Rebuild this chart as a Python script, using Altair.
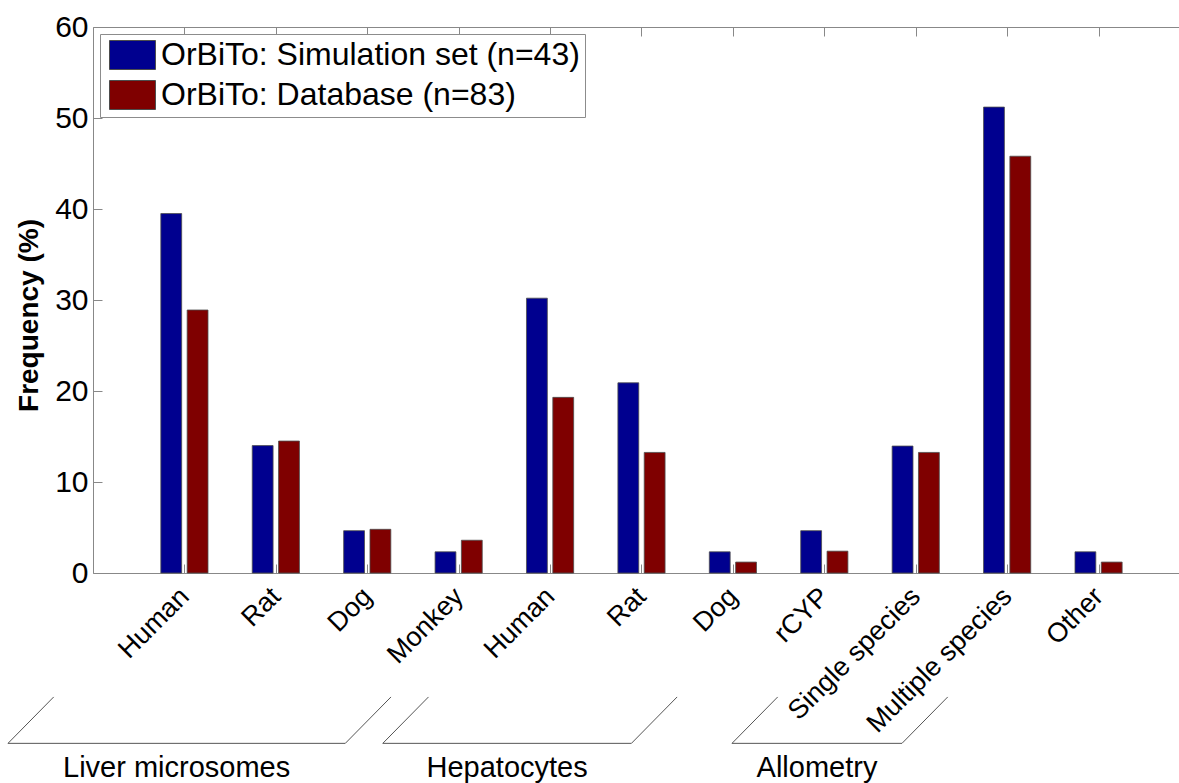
import altair as alt
import pandas as pd

# Category labels along the x axis (left to right)
categories = ["Human", "Rat", "Dog", "Monkey", "Human", "Rat", "Dog",
              "rCYP", "Single species", "Multiple species", "Other"]

# Frequency (%) per category for each data set
simulation_set = [39.5, 14.0, 4.65, 2.33, 30.2, 20.9, 2.33, 4.65, 13.95, 51.2, 2.33]
database = [28.9, 14.5, 4.8, 3.6, 19.3, 13.25, 1.2, 2.4, 13.25, 45.8, 1.2]

series_names = ["OrBiTo: Simulation set (n=43)", "OrBiTo: Database (n=83)"]
series_colors = ["#00008f", "#7f0000"]

# Method groups drawn under the rotated labels (span in category units)
group_names = ["Liver microsomes", "Hepatocytes", "Allometry"]
group_start = [-0.93, 3.17, 6.99]
group_end = [2.76, 5.89, 8.85]

FONT = "Liberation Sans"
AXIS_GREY = "#8c8c8c"
W, H = 1086, 546          # plot area in pixels
X_MAX = 11.88             # visible part of the 0..12 category range
BAR_INNER, BAR_OUTER = 0.03, 0.258
SLANT_X, SLANT_Y = 0.50, 5.1      # bracket arm, in x / y data units
BRACKET_Y = -18.72
GROUP_LABEL_Y = -22.4

x_scale = alt.Scale(domain=[0, X_MAX], nice=False, zero=False)
y_scale = alt.Scale(domain=[0, 60], nice=False)

rows = []
for i, cat in enumerate(categories):
    idx = i + 1
    for s, (name, vals) in enumerate(zip(series_names, [simulation_set, database])):
        if s == 0:
            x0, x1 = idx - BAR_OUTER, idx - BAR_INNER
        else:
            x0, x1 = idx + BAR_INNER, idx + BAR_OUTER
        rows.append({"category": cat, "series": name, "value": vals[i],
                     "x0": x0, "x1": x1})
bars_df = pd.DataFrame(rows)

bracket_rows = []
for g, (name, a, b) in enumerate(zip(group_names, group_start, group_end)):
    pts = [(a + SLANT_X, BRACKET_Y + SLANT_Y), (a, BRACKET_Y),
           (b, BRACKET_Y), (b + SLANT_X, BRACKET_Y + SLANT_Y)]
    for k, (px, py) in enumerate(pts):
        bracket_rows.append({"group": name, "order": k, "bx": px, "by": py})
brackets_df = pd.DataFrame(bracket_rows)

labels_df = pd.DataFrame({
    "group": group_names,
    "cx": [(a + b) / 2 for a, b in zip(group_start, group_end)],
    "ty": [GROUP_LABEL_Y] * len(group_names),
})

tick_values = list(range(1, len(categories) + 1))
label_expr = "[" + ",".join("'" + c + "'" for c in categories) + "][datum.value - 1]"

bars = alt.Chart(bars_df).mark_bar(stroke="#4d4d4d", strokeWidth=0.8).encode(
    x=alt.X("x0:Q", scale=x_scale, title=None,
            axis=alt.Axis(orient="bottom", values=tick_values, labelExpr=label_expr,
                          ticks=False, tickSize=0, grid=False, domain=True,
                          labelAngle=-45, labelAlign="right", labelBaseline="middle",
                          labelPadding=19, labelFontSize=27, labelColor="black",
                          labelFont=FONT, labelOverlap=False, labelFlush=False,
                          labelBound=False, labelLimit=0)),
    x2="x1:Q",
    y=alt.Y("value:Q", scale=y_scale,
            axis=alt.Axis(orient="left", values=list(range(0, 61, 10)), ticks=False,
                          tickSize=0, grid=False, domain=True, labelPadding=5,
                          labelFontSize=30, labelColor="black", labelFont=FONT,
                          title="Frequency (%)", titleFontSize=28, titleFontWeight="bold",
                          titleFont=FONT, titleColor="black", titleAngle=270,
                          titleX=-56, titleY=288, titleAlign="center",
                          titleBaseline="alphabetic")),
    y2=alt.datum(0),
    color=alt.Color("series:N",
                    scale=alt.Scale(domain=series_names, range=series_colors),
                    legend=alt.Legend(title=None, orient="none", legendX=7, legendY=7,
                                      symbolType="M-1.586,-1H1.586V1H-1.586Z",
                                      symbolSize=841, symbolOffset=11.5,
                                      symbolStrokeColor="#4d4d4d",
                                      symbolStrokeWidth=1, symbolOpacity=1,
                                      labelFontSize=32, labelFont=FONT,
                                      labelColor="black", labelLimit=0,
                                      labelOffset=12.5, rowPadding=6, padding=5,
                                      fillColor="white", strokeColor=AXIS_GREY)),
)

# Bracket outlines under the tick labels; this layer also carries the top
# border (ticks pointing down) and the inward y ticks.
brackets = alt.Chart(brackets_df).mark_line(color="#555555", strokeWidth=1).encode(
    x=alt.X("bx:Q", scale=x_scale, title=None,
            axis=alt.Axis(orient="bottom", offset=-H, values=tick_values, labels=False,
                          ticks=True, tickSize=9, grid=False, domain=True)),
    y=alt.Y("by:Q", scale=y_scale, title=None,
            axis=alt.Axis(orient="right", offset=-W, values=list(range(0, 61, 10)),
                          labels=False, ticks=True, tickSize=9, grid=False,
                          domain=False)),
    detail="group:N",
    order="order:Q",
)

# Group names; this layer also carries the inward bottom ticks.
group_text = alt.Chart(labels_df).mark_text(
    fontSize=29, font=FONT, color="black", align="center", baseline="alphabetic"
).encode(
    x=alt.X("cx:Q", scale=x_scale, title=None,
            axis=alt.Axis(orient="top", offset=-H, values=tick_values, labels=False,
                          ticks=True, tickSize=9, grid=False, domain=False)),
    y=alt.Y("ty:Q", scale=y_scale, axis=None),
    text="group:N",
)

chart = alt.layer(bars, brackets, group_text).resolve_axis(
    x="independent", y="independent"
).properties(
    width=W, height=H,
    autosize=alt.AutoSizeParams(type="none"),
    padding={"left": 93, "top": 27, "right": 0, "bottom": 210},
    background="white",
).configure_view(stroke=None).configure_axis(
    domainColor=AXIS_GREY, domainWidth=1.5, tickColor=AXIS_GREY, tickWidth=1.5,
).configure(font=FONT)

chart.save("out.html", embed_options={"renderer": "svg", "actions": False})
